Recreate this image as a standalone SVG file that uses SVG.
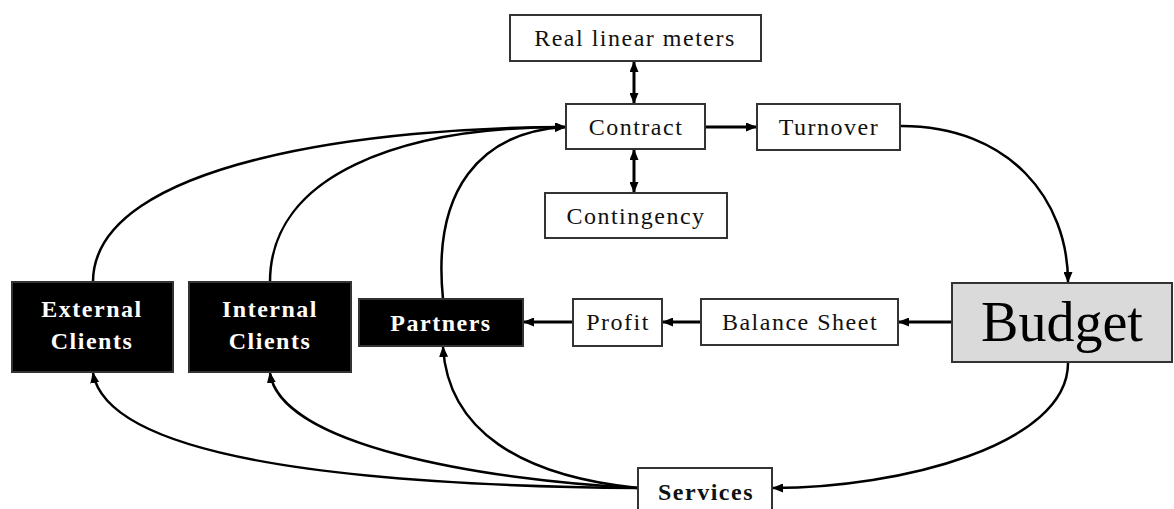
<svg xmlns="http://www.w3.org/2000/svg" width="1174" height="509" viewBox="0 0 1174 509">
<defs>
<marker id="ah" markerUnits="userSpaceOnUse" markerWidth="11" markerHeight="9" refX="10" refY="4.5" orient="auto-start-reverse">
<path d="M0,0 L11,4.5 L0,9 z" fill="#000"/>
</marker>
<style>
.box{fill:#fff;stroke:#333;stroke-width:2}
.dark{fill:#000;stroke:#333;stroke-width:2}
.t{font-family:"Liberation Serif","Times New Roman",serif;font-size:24px;fill:#111;text-anchor:middle;letter-spacing:1.5px}
.w{font-family:"Liberation Serif","Times New Roman",serif;font-size:24px;font-weight:bold;fill:#fff;text-anchor:middle;letter-spacing:1.5px}
.c{fill:none;stroke:#000;stroke-width:2.5;marker-end:url(#ah)}
.s{fill:none;stroke:#000;stroke-width:3;marker-end:url(#ah)}
.d{fill:none;stroke:#000;stroke-width:3;marker-end:url(#ah);marker-start:url(#ah)}
</style>
</defs>
<rect width="1174" height="509" fill="#fff"/>
<g id="connectors">
<path class="d" d="M634,62 L634,103"/>
<path class="d" d="M634,150 L634,192"/>
<path class="s" d="M706,127 L756,127"/>
<path class="c" d="M901,126 C1010,126 1068,200 1068,282"/>
<path class="s" d="M951,322 L899,322"/>
<path class="s" d="M700,322 L663,322"/>
<path class="s" d="M572,322 L524,322"/>
<path class="c" d="M1068,363 C1068,445 900,488 773,488"/>
<path class="c" d="M93,282 C93,160 380,127 565,127"/>
<path class="c" d="M270,282 C270,175 400,127 565,127"/>
<path class="c" d="M443,299 C432,190 480,132 565,127"/>
<path class="c" d="M638,488 C420,486 110,470 93,373"/>
<path class="c" d="M638,488 C480,480 280,445 270,373"/>
<path class="c" d="M638,488 C520,476 448,430 443,347"/>
</g>
<g id="real"><rect class="box" x="510" y="15" width="251" height="46"/><text class="t" x="635" y="46">Real linear meters</text></g>
<g id="contract"><rect class="box" x="566" y="104" width="139" height="45"/><text class="t" x="636" y="135">Contract</text></g>
<g id="turnover"><rect class="box" x="757" y="104" width="143" height="46"/><text class="t" x="829" y="135">Turnover</text></g>
<g id="contingency"><rect class="box" x="545" y="193" width="182" height="45"/><text class="t" x="636" y="224">Contingency</text></g>
<g id="budget"><rect x="952" y="283" width="220" height="79" fill="#dadada" stroke="#333" stroke-width="2"/><text x="1062" y="341" font-family="'Liberation Serif','Times New Roman',serif" font-size="56" text-anchor="middle" fill="#000">Budget</text></g>
<g id="balance"><rect class="box" x="701" y="299" width="197" height="46"/><text class="t" x="800" y="330">Balance Sheet</text></g>
<g id="profit"><rect class="box" x="573" y="299" width="89" height="47"/><text class="t" x="618" y="330">Profit</text></g>
<g id="partners"><rect class="dark" x="359" y="299" width="164" height="47"/><text class="w" x="441" y="331">Partners</text></g>
<g id="internal"><rect class="dark" x="189" y="282" width="162" height="90"/><text class="w" x="270" y="317">Internal</text><text class="w" x="270" y="349">Clients</text></g>
<g id="external"><rect class="dark" x="12" y="282" width="161" height="90"/><text class="w" x="92" y="317">External</text><text class="w" x="92" y="349">Clients</text></g>
<g id="services"><rect class="box" x="638" y="468" width="134" height="50"/><text class="w" x="706" y="500" style="fill:#111">Services</text></g>
</svg>
